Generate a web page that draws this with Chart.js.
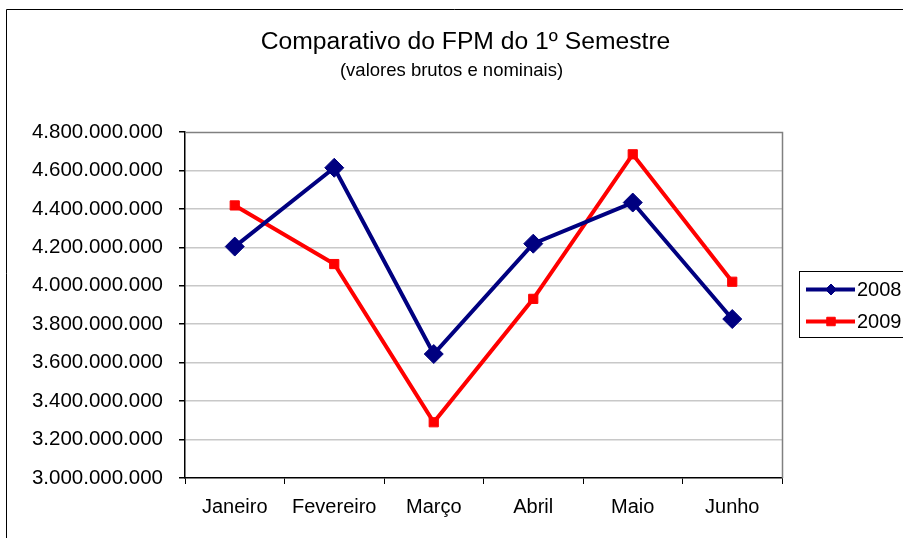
<!DOCTYPE html>
<html>
<head>
<meta charset="utf-8">
<script src="https://cdn.jsdelivr.net/npm/chart.js@4/dist/chart.umd.min.js"></script>
<style>
  html, body { margin: 0; padding: 0; background: #fff; }
  #wrap { width: 903px; height: 538px; }
</style>
</head>
<body>
<div id="wrap"><canvas id="chart" width="903" height="538"></canvas></div>
<script>
const months = ['Janeiro', 'Fevereiro', 'Março', 'Abril', 'Maio', 'Junho'];
const fpm2008 = [4204000000, 4614000000, 3645000000, 4219000000, 4433000000, 3827000000];
const fpm2009 = [4418000000, 4113000000, 3290000000, 3932000000, 4684000000, 4021000000];
const yMin = 3000000000;
const yMax = 4800000000;
const yStep = 200000000;
const titleText = 'Comparativo do FPM do 1º Semestre';
const subtitleText = '(valores brutos e nominais)';

const font = 'Arial, "Liberation Sans", sans-serif';

// dots as thousand separators, like the original
const fmt = (v) => Math.round(v).toString().replace(/\B(?=(\d{3})+(?!\d))/g, '.');

const frame = {
  id: 'frame',
  beforeDraw(chart) {
    const { ctx } = chart;
    ctx.save();
    ctx.fillStyle = '#fff';
    ctx.fillRect(0, 0, chart.width, chart.height);
    ctx.strokeStyle = '#000';
    ctx.lineWidth = 1;
    ctx.beginPath();
    ctx.moveTo(6.5, chart.height);
    ctx.lineTo(6.5, 9.5);
    ctx.lineTo(chart.width, 9.5);
    ctx.stroke();

    // titles
    ctx.fillStyle = '#000';
    ctx.textAlign = 'center';
    ctx.textBaseline = 'middle';
    ctx.font = '24.7px ' + font;
    ctx.fillText(titleText, 465.5, 42.5);
    ctx.font = '18.5px ' + font;
    ctx.fillText(subtitleText, 451.5, 70.5);
    ctx.restore();
  },
  beforeDatasetsDraw(chart) {
    const { ctx, chartArea: a } = chart;
    ctx.save();
    ctx.strokeStyle = '#808080';
    ctx.lineWidth = 1.5;
    ctx.beginPath();
    ctx.moveTo(a.left, a.top + 0.5);
    ctx.lineTo(a.right + 0.5, a.top + 0.5);
    ctx.lineTo(a.right + 0.5, a.bottom);
    ctx.stroke();
    ctx.restore();
  },
  afterDraw(chart) {
    const { ctx } = chart;
    ctx.save();
    ctx.strokeStyle = '#000';
    ctx.lineWidth = 1;
    ctx.strokeRect(799.5, 271.5, 120, 66);
    const rows = [289.5, 321.5];
    chart.data.datasets.forEach((ds, i) => {
      const y = rows[i];
      ctx.strokeStyle = ds.borderColor;
      ctx.lineWidth = ds.borderWidth;
      ctx.beginPath();
      ctx.moveTo(806, y);
      ctx.lineTo(855, y);
      ctx.stroke();
      ctx.fillStyle = ds.pointBackgroundColor;
      ctx.strokeStyle = ds.pointBorderColor;
      ctx.lineWidth = 1;
      Chart.helpers.drawPoint(ctx, {
        pointStyle: ds.pointStyle,
        radius: i === 0 ? 5.5 : 6,
        borderWidth: 1
      }, 831, y);
      ctx.fillStyle = '#000';
      ctx.font = '20px ' + font;
      ctx.textBaseline = 'middle';
      ctx.textAlign = 'left';
      ctx.fillText(ds.label, 857, y + 1);
    });
    ctx.restore();
  }
};

new Chart(document.getElementById('chart'), {
  type: 'line',
  data: {
    labels: months,
    datasets: [
      {
        label: '2008',
        data: fpm2008,
        borderColor: '#000080',
        backgroundColor: '#000080',
        pointBackgroundColor: '#000080',
        pointBorderColor: '#000080',
        borderWidth: 4,
        pointStyle: 'rectRot',
        pointRadius: 9.5,
        pointBorderWidth: 1,
        tension: 0
      },
      {
        label: '2009',
        data: fpm2009,
        borderColor: '#ff0000',
        backgroundColor: '#ff0000',
        pointBackgroundColor: '#ff0000',
        pointBorderColor: '#ff0000',
        borderWidth: 4,
        pointStyle: 'rect',
        pointRadius: 6.5,
        pointBorderWidth: 1,
        tension: 0
      }
    ]
  },
  options: {
    responsive: false,
    animation: false,
    events: [],
    layout: { padding: { left: 0, right: 121, top: 132, bottom: 0 } },
    plugins: {
      legend: { display: false },
      tooltip: { enabled: false },
      title: { display: false },
      subtitle: { display: false }
    },
    scales: {
      x: {
        offset: true,
        afterFit(scale) { scale.height = 60; },
        grid: {
          offset: true,
          drawOnChartArea: false,
          drawTicks: true,
          tickLength: 6,
          tickColor: '#000'
        },
        border: { color: '#000', width: 1.5 },
        ticks: {
          color: '#000',
          padding: 11,
          maxRotation: 0,
          font: { family: font, size: 20 }
        }
      },
      y: {
        min: yMin,
        max: yMax,
        afterFit(scale) { scale.width = 185; },
        grid: {
          color: (c) => (c.index === 0 || c.tick.value === yMax) ? 'rgba(0,0,0,0)' : '#c8c8c8',
          lineWidth: 1.5,
          tickLength: 6,
          tickColor: '#000'
        },
        border: { color: '#000', width: 1.5 },
        ticks: {
          stepSize: yStep,
          color: '#000',
          padding: 16,
          font: { family: font, size: 20.5 },
          callback: (v) => fmt(v)
        }
      }
    }
  },
  plugins: [frame]
});
</script>
</body>
</html>
